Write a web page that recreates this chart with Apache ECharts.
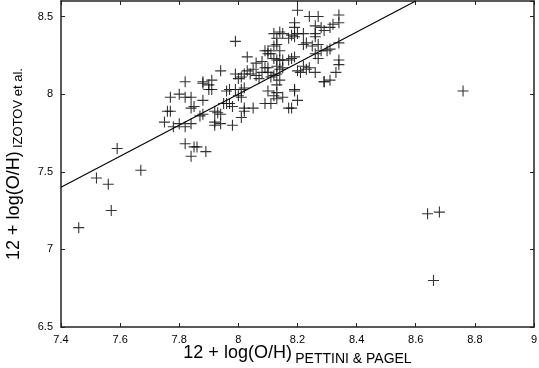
<!DOCTYPE html>
<html>
<head>
<meta charset="utf-8">
<script src="https://cdn.jsdelivr.net/npm/echarts@6/dist/echarts.min.js"></script>
<style>html,body{margin:0;padding:0;background:#fff}#c{width:539px;height:368px}</style>
</head>
<body>
<div id="c"></div>
<script>
// 12 + log(O/H), Pettini & Pagel (x) vs Izotov et al. (y)
var pettiniPagel = [
8.20,8.24,8.27,8.34,8.34,8.19,8.19,8.26,8.28,8.29,8.31,8.32,
7.99,
8.12,8.14,8.15,8.18,8.20,8.22,8.13,8.17,8.19,8.26,8.26,
8.03,
8.09,8.10,8.12,8.13,8.14,
8.22,8.23,8.25,8.27,8.28,8.30,8.31,8.26,8.27,
8.34,8.34,8.34,8.33,8.29,8.31,
8.26,8.24,8.22,8.20,
8.12,8.13,8.14,8.15,8.17,8.18,8.19,8.13,8.14,8.15,8.13,8.14,8.11,8.13,8.10,8.08,8.06,8.08,8.05,8.09,8.10,
7.94,7.82,7.88,7.91,7.90,7.91,
7.99,8.01,8.02,8.03,8.00,
7.77,7.80,7.82,7.84,7.88,7.76,7.77,7.75,7.78,7.82,7.84,7.84,7.85,7.87,7.88,7.92,7.93,7.94,7.92,7.92,7.94,7.98,8.01,7.95,7.96,7.97,7.98,7.96,7.97,7.99,8.01,8.02,8.02,8.05,8.09,8.11,8.12,8.13,8.15,8.10,8.13,8.17,8.18,8.19,8.20,
7.82,7.85,7.86,7.84,7.89,
7.59,7.52,7.56,7.67,7.57,7.46,
8.76,8.64,8.68,8.66,
8.04,8.06,8.07,8.12,8.21,8.23,8.10,8.11,
7.88,7.90,7.80,8.00,8.01,8.02,8.19,8.29
];
var izotov = [
8.54,8.50,8.50,8.51,8.46,8.46,8.43,8.44,8.43,8.41,8.43,8.45,
8.34,
8.39,8.40,8.39,8.38,8.39,8.39,8.36,8.36,8.37,8.39,8.37,
8.24,
8.28,8.26,8.31,8.32,8.28,
8.32,8.33,8.31,8.32,8.28,8.28,8.29,8.26,8.23,
8.33,8.22,8.19,8.14,8.08,8.09,
8.14,8.17,8.18,8.15,
8.23,8.22,8.22,8.22,8.22,8.23,8.24,8.18,8.16,8.17,8.13,8.09,8.11,8.06,8.14,8.14,8.20,8.21,8.16,8.17,8.17,
8.15,8.08,8.08,8.09,8.06,8.03,
8.13,8.11,8.13,8.15,8.10,
7.98,8.00,7.98,7.98,7.96,7.89,7.89,7.82,7.79,7.79,7.81,7.91,7.92,7.86,7.87,7.89,7.88,7.87,7.82,7.80,7.81,7.80,7.85,7.94,7.94,7.94,7.92,8.02,8.03,8.03,8.03,7.91,7.89,7.91,7.94,7.94,7.99,7.97,7.98,8.02,8.01,7.91,7.91,8.03,7.96,
7.68,7.66,7.66,7.60,7.63,
7.65,7.46,7.42,7.51,7.25,7.14,
8.02,7.23,7.24,6.80,
8.13,8.12,8.10,8.12,8.14,8.16,8.28,8.26,
8.07,8.03,7.81,7.99,7.98,8.04,8.02,8.08
];
var fitLineX = [7.4, 8.6];
var fitLineY = [7.4, 8.6];
var xTicks = {min: 7.4, max: 9, step: 0.2};
var yTicks = {min: 6.5, max: 8.6, step: 0.5};

var pts = pettiniPagel.map(function (x, i) { return [x, izotov[i]]; });
var linePts = fitLineX.map(function (x, i) { return [x, fitLineY[i]]; });

var font = '"Liberation Sans", Arial, Helvetica, sans-serif';
var fmt = function (v) { return String(Math.round(v * 10) / 10); };
var yfmt = function (v) {
  var r = Math.round(v * 10) / 10;
  return (Math.abs(r * 2 - Math.round(r * 2)) < 1e-6) ? String(r) : '';
};
var axisLineStyle = {color: '#222', width: 1.5};

var chart = echarts.init(document.getElementById('c'), null, {renderer: 'canvas'});
chart.setOption({
  animation: false,
  backgroundColor: '#fff',
  grid: {left: 61, right: 5, top: 1, bottom: 41, containLabel: false, outerBoundsMode: 'none'},
  xAxis: [{
    type: 'value', position: 'bottom',
    min: xTicks.min, max: xTicks.max, interval: xTicks.step,
    axisLine: {show: true, onZero: false, lineStyle: axisLineStyle},
    axisTick: {show: true, inside: true, length: 4, lineStyle: {color: '#222', width: 1}},
    axisLabel: {formatter: fmt, color: '#000', fontSize: 11, fontFamily: font, margin: 7},
    splitLine: {show: false},
    name: '{a|12 + log(O/H)} {b|PETTINI & PAGEL}',
    nameLocation: 'middle', nameGap: 17, nameMoveOverlap: false,
    nameTextStyle: {
      rich: {
        a: {fontSize: 18, fontFamily: font, color: '#000', lineHeight: 22, verticalAlign: 'top'},
        b: {fontSize: 14, fontFamily: font, color: '#000', lineHeight: 17, verticalAlign: 'bottom'}
      }
    }
  }, {
    type: 'value', position: 'top',
    min: xTicks.min, max: xTicks.max, interval: xTicks.step,
    axisLine: {show: true, onZero: false, lineStyle: axisLineStyle},
    axisTick: {show: true, inside: true, length: 4, lineStyle: {color: '#222', width: 1}},
    axisLabel: {show: false}, splitLine: {show: false}
  }],
  yAxis: [{
    type: 'value', position: 'left',
    min: yTicks.min, max: yTicks.max, interval: yTicks.step,
    axisLine: {show: true, onZero: false, lineStyle: axisLineStyle},
    axisTick: {show: true, inside: true, length: 4, lineStyle: {color: '#222', width: 1}},
    axisLabel: {formatter: yfmt, color: '#000', fontSize: 11, fontFamily: font, margin: 8, showMaxLabel: false},
    splitLine: {show: false},
    name: '{a|12 + log(O/H)} {b|IZOTOV et al.}',
    nameLocation: 'middle', nameRotate: 90, nameGap: 36, nameMoveOverlap: false,
    nameTextStyle: {
      rich: {
        a: {fontSize: 18, fontFamily: font, color: '#000', lineHeight: 20, verticalAlign: 'top'},
        b: {fontSize: 13, fontFamily: font, color: '#000', lineHeight: 13, padding: [13, 0, 0, 0], verticalAlign: 'bottom'}
      }
    }
  }, {
    type: 'value', position: 'right',
    min: yTicks.min, max: yTicks.max, interval: yTicks.step,
    axisLine: {show: true, onZero: false, lineStyle: axisLineStyle},
    axisTick: {show: true, inside: true, length: 4, lineStyle: {color: '#222', width: 1}},
    axisLabel: {show: false}, splitLine: {show: false}
  }],
  series: [{
    type: 'line', xAxisIndex: 0, yAxisIndex: 0,
    data: linePts, showSymbol: false, symbol: 'none',
    lineStyle: {color: '#000', width: 1.1}, silent: true, z: 3
  }, {
    type: 'scatter', xAxisIndex: 0, yAxisIndex: 0,
    data: pts,
    symbol: 'path://M0,4.5H10V5.5H0Z M4.5,0H5.5V10H4.5Z',
    symbolSize: 11,
    itemStyle: {color: '#111', opacity: 0.85},
    z: 4
  }]
});
</script>
</body>
</html>
